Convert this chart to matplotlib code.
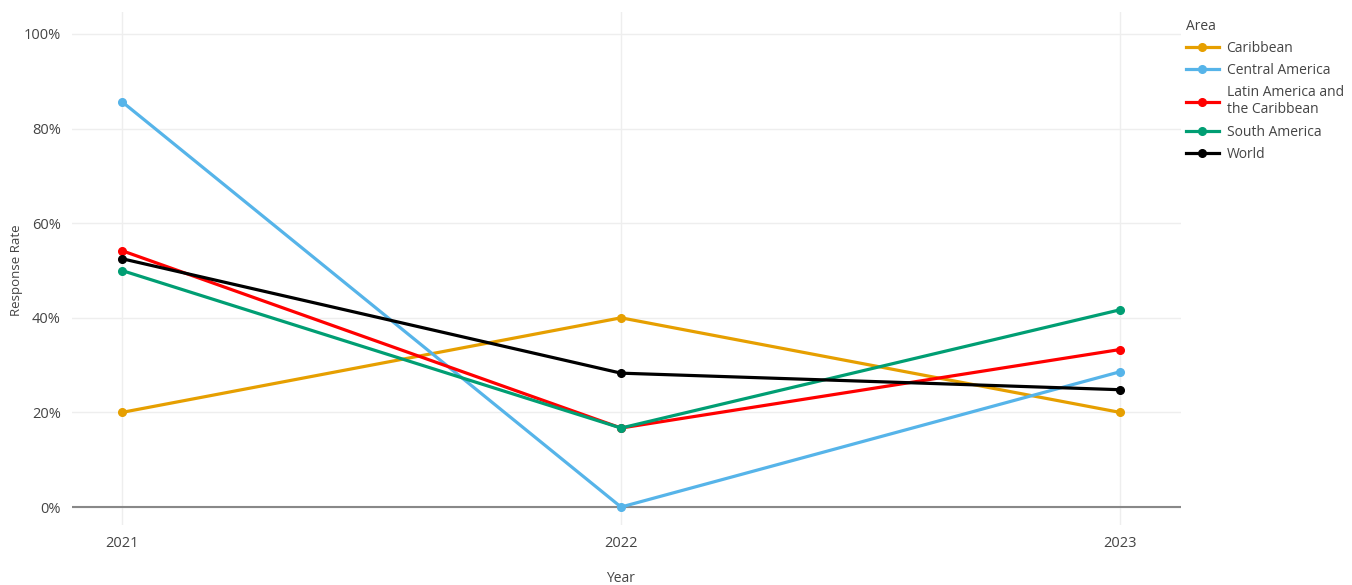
import matplotlib.pyplot as plt
import matplotlib.ticker as mtick

plt.rcParams['font.family'] = ['Open Sans', 'DejaVu Sans']

years = [2021, 2022, 2023]
areas = ["Caribbean", "Central America", "Latin America and\nthe Caribbean", "South America", "World"]
caribbean = [0.20, 0.40, 0.20]
central_america = [0.857, 0.0, 0.286]
latin_america = [0.542, 0.167, 0.333]
south_america = [0.50, 0.167, 0.417]
world = [0.525, 0.283, 0.248]
colors = ["#E69F00", "#56B4E9", "#FF0000", "#009E73", "#000000"]

series = [caribbean, central_america, latin_america, south_america, world]

fig = plt.figure(figsize=(13.52, 5.85), dpi=100)
ax = fig.add_axes([72/1352, 60/585, (1181-72)/1352, (573-60)/585])

for name, vals, c in zip(areas, series, colors):
    ax.plot(years, vals, color=c, lw=2.3, marker="o", ms=5.5, label=name)

ax.set_xlim(2020.9, 2023.122)
ax.set_ylim(-0.038, 1.0465)
ax.set_xticks(years)
ax.set_yticks([0, 0.2, 0.4, 0.6, 0.8, 1.0])
ax.yaxis.set_major_formatter(mtick.PercentFormatter(1.0, decimals=0))
ax.grid(True, color="#eeeeee", lw=1)
ax.set_axisbelow(True)
ax.axhline(0, color="#888888", lw=1.5, zorder=1.5)
for s in ax.spines.values():
    s.set_visible(False)
ax.tick_params(length=0, labelsize=10.5, colors="#444444", pad=8)
ax.tick_params(axis="x", pad=8)

fig.text(17/1352, 1 - 270/585, "Response Rate", rotation=90, ha="center", va="center",
         fontsize=9.5, color="#444444")
fig.text(621/1352, 1 - 578/585, "Year", ha="center", va="center", fontsize=10, color="#444444")

leg = ax.legend(loc="upper left", bbox_to_anchor=(1180/1352, 1 - 13/585), bbox_transform=fig.transFigure,
                frameon=False, title="Area", fontsize=10, title_fontsize=10, handlelength=2.4,
                handletextpad=0.55, labelspacing=0.52, alignment="left", borderaxespad=0)
for t in leg.get_texts():
    t.set_color("#444444")
leg.get_title().set_color("#444444")

fig.savefig("out.png", dpi=100)
